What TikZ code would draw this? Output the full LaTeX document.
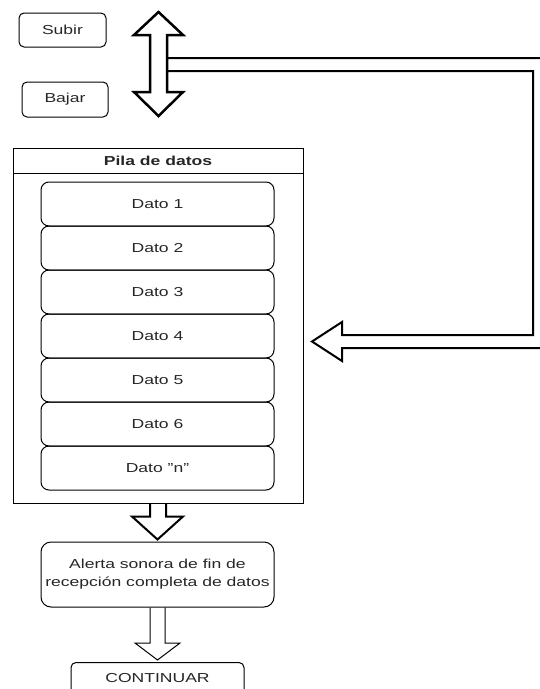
\documentclass[tikz,border=0pt]{standalone}
\usepackage{fontspec}
\setmainfont{Liberation Sans}
\usetikzlibrary{calc}
\newcommand{\ancho}[1]{\scalebox{1.35}[1]{#1}}

\begin{document}
\begin{tikzpicture}[x=1pt, y=-1pt,
    every node/.style={align=center, font=\fontsize{13}{18}\selectfont, text=black!85},
    caja/.style={draw, rounded corners=5pt, line width=1pt, inner sep=0pt},
    dato/.style={caja, rounded corners=8pt, minimum width=233pt, minimum height=44pt},
    hueca/.style={draw, line width=2pt, line join=miter}]
    \useasboundingbox (0,0) rectangle (540,689);
    \clip (0,0) rectangle (540,689);

    \node[caja, minimum width=87pt, minimum height=34pt] (subir) at (62.5,30) {\ancho{Subir}};
    \node[caja, minimum width=86pt, minimum height=35pt] (bajar) at (65,99.5) {\ancho{Bajar}};

    % pila
    \node[draw, line width=1pt, minimum width=290pt, minimum height=355pt] (pila) at (158,325.5) {};
    \node[draw, line width=1pt, minimum width=290pt, minimum height=25pt, anchor=north] (titulo) at (pila.north) {\bfseries\ancho{Pila de datos}};
    \foreach \txt [count=\i] in {Dato 1,Dato 2,Dato 3,Dato 4,Dato 5,Dato 6,Dato \symbol{34}n\symbol{34}}
        \node[dato] (dato\i) at (157.5,160+44*\i) {\ancho{\txt}};

    \node[caja, rounded corners=10pt, minimum width=233pt, minimum height=65pt] (alerta) at (157.5,574.5)
        {\ancho{Alerta sonora de fin de}\\\ancho{recepción completa de datos}};
    \node[caja, minimum width=173pt, minimum height=32pt, anchor=north] (continuar) at (157.5,662) {\ancho{CONTINUAR}};

    % flechas
    \coordinate (flecha) at (158.5,64);
    \coordinate (destino) at (312,341.5);
    \draw[hueca, line width=2.5pt] (flecha) ++(-8.5,-29) -- ++(-16,0) -- ++(24.5,-23) -- ++(24.5,23) -- ++(-16,0)
        -- ++(0,57) -- ++(16,0) -- ++(-24.5,24) -- ++(-24.5,-24) -- ++(16,0) -- cycle;
    \draw[hueca] ($(flecha)+(8.5,-6)$) -- ++(379,0) |- ($(destino)+(30,6.5)$) -- ++(0,13) -- (destino)
        -- ++(30,-19.5) -- ++(0,13) -| ($(flecha)+(374.5,7)$) -- ($(flecha)+(8.5,7)$);
    \draw[hueca] ($(pila.south)+(-8,0)$) |- ($(alerta.north)+(-25.5,-25)$) -- ($(alerta.north)+(0,-2)$)
        -- ($(alerta.north)+(25.5,-25)$) -| ($(pila.south)+(8,0)$);
    \draw[hueca, line width=1pt] ($(alerta.south)+(-7.5,0)$) |- ($(continuar.north)+(-22.5,-19)$) -- ($(continuar.north)+(0,-2)$)
        -- ($(continuar.north)+(22.5,-19)$) -| ($(alerta.south)+(7.5,0)$);
\end{tikzpicture}
\end{document}
